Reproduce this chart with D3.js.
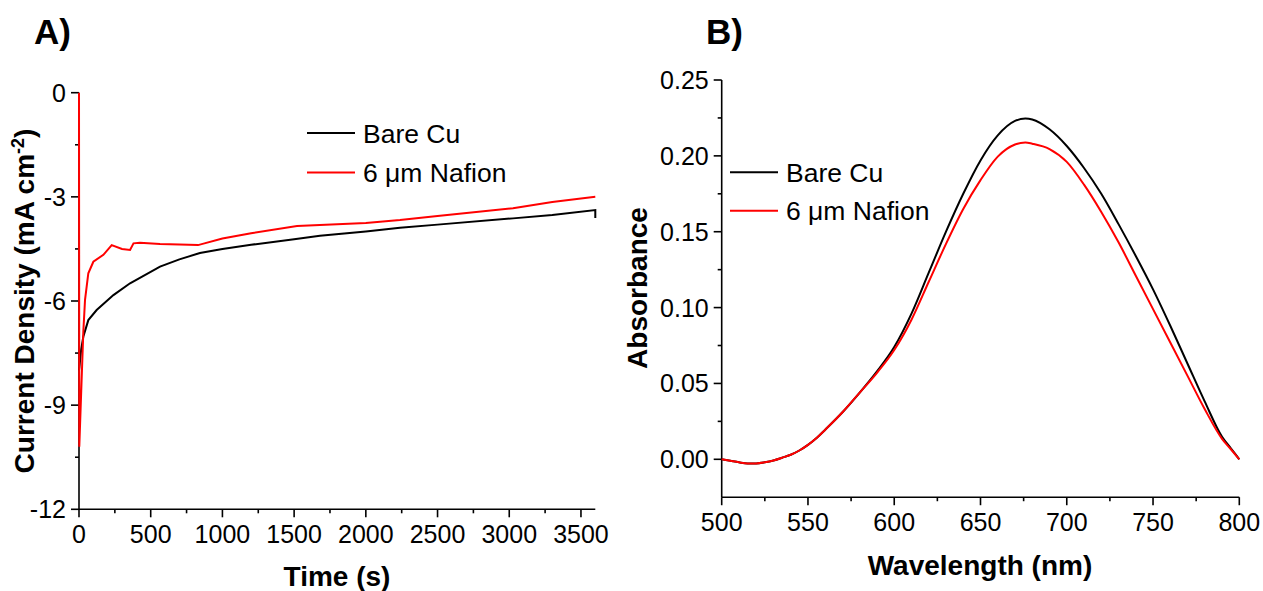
<!DOCTYPE html>
<html><head><meta charset="utf-8">
<script src="https://cdn.jsdelivr.net/npm/d3@7"></script>
<style>body{margin:0;background:#fff}svg{display:block}text{font-family:"Liberation Sans",Arial,sans-serif}</style>
</head><body>
<svg id="c" width="1263" height="591"></svg>
<script>
// Panel A: chronoamperometry
const timeBare = [0,3,15,30,65,123,240,356,565,700,843,1000,1200,1500,1680,2000,2238,2500,3026,3300,3600,3600];
const jBare    = [-8.0,-7.9,-7.4,-7.03,-6.55,-6.26,-5.83,-5.49,-5.01,-4.8,-4.62,-4.5,-4.38,-4.22,-4.12,-4.0,-3.89,-3.8,-3.62,-3.52,-3.38,-3.61];
const timeNaf  = [0,2,19,30,42,65,100,170,228,300,356,380,425,565,700,830,1000,1200,1520,2000,2238,2500,3026,3300,3600];
const jNaf     = [0,-10.2,-8.18,-6.9,-5.97,-5.2,-4.87,-4.67,-4.39,-4.5,-4.53,-4.34,-4.32,-4.36,-4.37,-4.39,-4.2,-4.05,-3.84,-3.75,-3.67,-3.55,-3.33,-3.15,-3.0];
const timeTicks = [0,500,1000,1500,2000,2500,3000,3500];
const jTicks = [0,-3,-6,-9,-12];

// Panel B: UV-vis absorbance
const wl = [500,505,510,515,520,525,530,535,540,545,550,555,560,570,580,590,600,610,620,630,640,650,660,670,676,680,690,700,710,720,730,740,750,760,770,780,790,795,800];
const absBare = [0,-0.001,-0.002,-0.0027,-0.0027,-0.002,-0.0008,0.001,0.003,0.0058,0.0095,0.014,0.0195,0.031,0.044,0.058,0.074,0.096,0.123,0.150,0.175,0.197,0.2135,0.223,0.2246,0.224,0.2175,0.2065,0.192,0.175,0.155,0.134,0.112,0.088,0.063,0.038,0.0148,0.0074,0.0];
const absNaf  = [0,-0.001,-0.002,-0.0027,-0.0027,-0.002,-0.0008,0.001,0.003,0.0058,0.0095,0.014,0.0195,0.031,0.044,0.057,0.072,0.092,0.117,0.142,0.165,0.184,0.1995,0.2075,0.2088,0.208,0.2045,0.196,0.181,0.163,0.143,0.121,0.099,0.077,0.055,0.033,0.0135,0.0068,0.0];
const wlTicks = [500,550,600,650,700,750,800];
const absTicks = [0.00,0.05,0.10,0.15,0.20,0.25];

const legendLabels = ["Bare Cu","6 \u03BCm Nafion"];
const colors = ["#000000","#ff0000"];

const svg = d3.select("#c");
const TICKFS = 25, TITLEFS = 28;

function minorVals(ticks){
  const out=[]; for(let i=0;i<ticks.length-1;i++) out.push((ticks[i]+ticks[i+1])/2); return out;
}

function drawAxes(g, x, y, xt, yt, xMinor, yMinor, yFmt, xDom, yDom){
  const gx = g.append("g").attr("transform",`translate(0,${y(yDom[0])})`);
  gx.append("line").attr("x1",x(xDom[0])).attr("x2",x(xDom[1])).attr("stroke","#000").attr("stroke-width",1.6);
  gx.selectAll(".mj").data(xt).join("line").attr("x1",d=>x(d)).attr("x2",d=>x(d)).attr("y1",0).attr("y2",8).attr("stroke","#000").attr("stroke-width",1.6);
  gx.selectAll(".mn").data(xMinor).join("line").attr("class","mn").attr("x1",d=>x(d)).attr("x2",d=>x(d)).attr("y1",0).attr("y2",4).attr("stroke","#000").attr("stroke-width",1.6);
  gx.selectAll(".lb").data(xt).join("text").attr("class","lb").attr("x",d=>x(d)).attr("y",34).attr("text-anchor","middle").attr("font-size",TICKFS).text(d=>d);
  const gy = g.append("g").attr("transform",`translate(${x(xDom[0])},0)`);
  gy.append("line").attr("y1",y(yDom[0])).attr("y2",y(yDom[1])).attr("stroke","#000").attr("stroke-width",1.6);
  gy.selectAll(".mj").data(yt).join("line").attr("class","mj").attr("y1",d=>y(d)).attr("y2",d=>y(d)).attr("x1",-8).attr("x2",0).attr("stroke","#000").attr("stroke-width",1.6);
  gy.selectAll(".mn").data(yMinor).join("line").attr("class","mn").attr("y1",d=>y(d)).attr("y2",d=>y(d)).attr("x1",-4).attr("x2",0).attr("stroke","#000").attr("stroke-width",1.6);
  gy.selectAll(".lb").data(yt).join("text").attr("class","lb").attr("x",-13).attr("y",d=>y(d)).attr("dy","0.36em").attr("text-anchor","end").attr("font-size",TICKFS).text(yFmt);
}

function legend(g, x0, y0, dy, lineLen){
  legendLabels.forEach((l,i)=>{
    g.append("line").attr("x1",x0).attr("x2",x0+lineLen).attr("y1",y0+i*dy).attr("y2",y0+i*dy).attr("stroke",colors[i]).attr("stroke-width",2);
    g.append("text").attr("x",x0+lineLen+8).attr("y",y0+i*dy).attr("dy","0.36em").attr("font-size",26.5).text(l);
  });
}

// ---- Panel A
{
  const xDom=[0,3600], yDom=[-12,0];
  const x = d3.scaleLinear().domain(xDom).range([79,595.3]);
  const y = d3.scaleLinear().domain(yDom).range([509.3,92.7]);
  const g = svg.append("g");
  drawAxes(g,x,y,timeTicks,jTicks,minorVals(timeTicks),minorVals(jTicks),d=>d,xDom,yDom);
  const line = d3.line().x(d=>x(d[0])).y(d=>y(d[1]));
  g.append("path").datum(timeBare.map((t,i)=>[t,jBare[i]])).attr("d",line).attr("fill","none").attr("stroke",colors[0]).attr("stroke-width",2);
  g.append("path").datum(timeNaf.map((t,i)=>[t,jNaf[i]])).attr("d",line).attr("fill","none").attr("stroke",colors[1]).attr("stroke-width",2);
  legend(g,307,133,39.5,48);
  g.append("text").attr("x",337).attr("y",586).attr("text-anchor","middle").attr("font-size",TITLEFS).attr("font-weight","bold").text("Time (s)");
  const yt = g.append("text").attr("transform","translate(34,301) rotate(-90)").attr("text-anchor","middle").attr("font-size",TITLEFS).attr("font-weight","bold");
  yt.append("tspan").text("Current Density (mA cm");
  yt.append("tspan").attr("dy",-10).attr("font-size",18).text("-2");
  yt.append("tspan").attr("dy",10).text(")");
  g.append("text").attr("x",34).attr("y",44).attr("font-size",35).attr("font-weight","bold").text("A)");
}

// ---- Panel B
{
  const xDom=[500,800], yDom=[-0.025,0.25];
  const x = d3.scaleLinear().domain(xDom).range([721.7,1239.3]);
  const y = d3.scaleLinear().domain([0,0.25]).range([459.3,80]);
  const g = svg.append("g");
  drawAxes(g,x,y,wlTicks,absTicks,minorVals(wlTicks),minorVals(absTicks),d=>d3.format(".2f")(d),xDom,yDom);
  const line = d3.line().curve(d3.curveMonotoneX).x(d=>x(d[0])).y(d=>y(d[1]));
  g.append("path").datum(wl.map((w,i)=>[w,absBare[i]])).attr("d",line).attr("fill","none").attr("stroke",colors[0]).attr("stroke-width",2);
  g.append("path").datum(wl.map((w,i)=>[w,absNaf[i]])).attr("d",line).attr("fill","none").attr("stroke",colors[1]).attr("stroke-width",2);
  legend(g,730,172.3,38.4,48);
  g.append("text").attr("x",980).attr("y",575).attr("text-anchor","middle").attr("font-size",TITLEFS).attr("font-weight","bold").text("Wavelength (nm)");
  g.append("text").attr("transform","translate(647,288) rotate(-90)").attr("text-anchor","middle").attr("font-size",TITLEFS).attr("font-weight","bold").text("Absorbance");
  g.append("text").attr("x",706).attr("y",44).attr("font-size",35).attr("font-weight","bold").text("B)");
}
</script>
</body></html>
